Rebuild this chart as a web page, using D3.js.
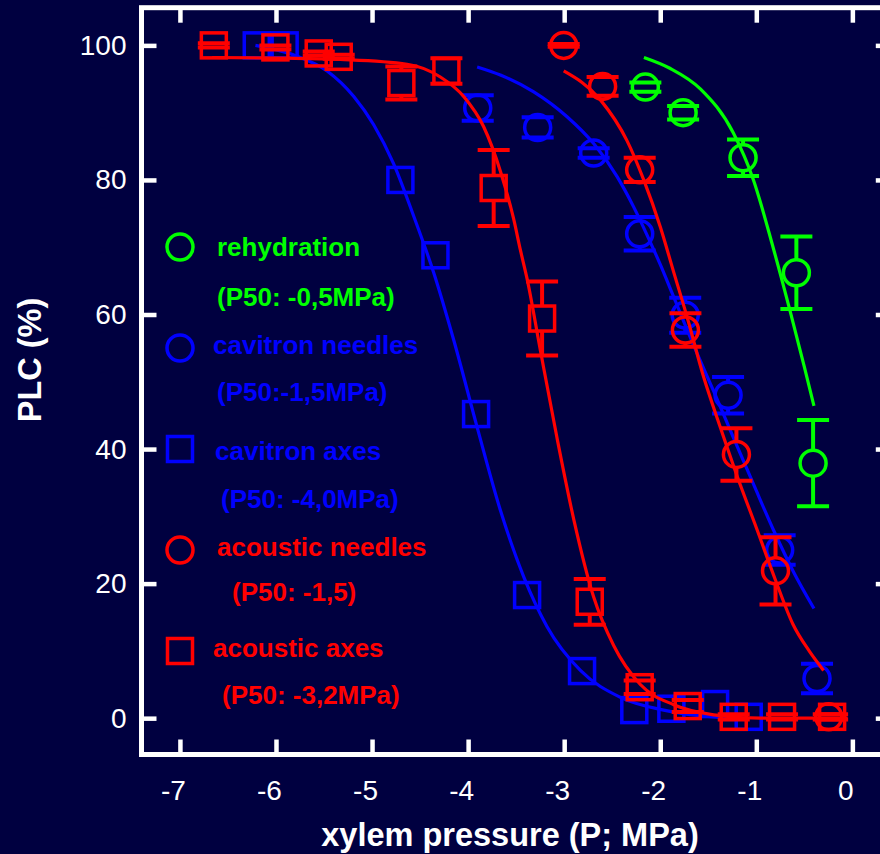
<!DOCTYPE html>
<html><head><meta charset="utf-8">
<script src="https://cdn.jsdelivr.net/npm/d3@7"></script>
<style>
html,body{margin:0;padding:0;background:#000040;}
svg{display:block;}
</style></head><body>
<svg id="chart" width="880" height="854"></svg>
<script>
// ---------- data ----------
const xTicks = [-7, -6, -5, -4, -3, -2, -1, 0];
const yTicks = [0, 20, 40, 60, 80, 100];

// rehydration (green circles)
const rehydP   = [-2.155, -1.762, -1.138, -0.583, -0.409];
const rehydPLC = [93.8, 90.0, 83.3, 66.2, 37.9];
const rehydErr = [0.7, 1.0, 2.7, 5.4, 6.4];

// cavitron needles (blue circles)
const cavNeedP   = [-3.90, -3.276, -2.693, -2.214, -1.74, -1.294, -0.757, -0.368];
const cavNeedPLC = [90.7, 87.8, 84.0, 72.0, 59.9, 48.0, 25.0, 5.9];
const cavNeedErr = [1.9, 1.5, 0.7, 2.5, 2.6, 2.7, 2.2, 2.2];

// cavitron axes (blue squares)
const cavAxP   = [-6.20, -5.91, -4.705, -4.34, -3.917, -3.386, -2.814, -2.27, -1.884, -1.429, -1.079];
const cavAxPLC = [100, 100, 80.0, 68.8, 45.2, 18.3, 7.0, 1.2, 1.4, 2.1, 0.2];

// acoustic needles (red circles)
const acNeedP   = [-3.005, -2.60, -2.214, -1.738, -1.207, -0.80, -0.246];
const acNeedPLC = [100.0, 93.9, 81.5, 57.7, 39.2, 21.9, 0.2];
const acNeedErr = [0.2, 1.4, 1.8, 2.5, 3.9, 5.0, 0.4];

// acoustic axes (red squares)
const acAxP   = [-6.647, -6.006, -5.555, -5.347, -4.695, -4.226, -3.734, -3.23, -2.734, -2.214, -1.714, -1.235, -0.732, -0.211];
const acAxPLC = [100, 99.7, 98.8, 98.3, 94.4, 96.2, 78.8, 59.4, 17.3, 4.6, 1.8, 0.2, 0.2, 0.2];
const acAxErr = [0.3, 0.3, 0.3, 0.3, 2.45, 1.9, 5.65, 5.5, 3.4, 1.0, 0.9, 0.4, 0.4, 0.4];

// fitted curves: [P, PLC]
const rehydCurve = [[-2.17,98.2],[-1.9,96.6],[-1.58,93.5],[-1.24,87.0],[-1.03,80.0],[-0.82,69.7],[-0.65,60.6],[-0.5,52.2],[-0.40,46.4]];
const cavNeedCurve = [[-3.906,96.8],[-3.664,95.6],[-3.317,93.1],[-2.97,89.4],[-2.693,85.4],[-2.449,80.5],[-2.277,76.0],[-2.137,71.8],[-1.999,67.4],[-1.86,62.6],[-1.652,55.4],[-1.444,48.6],[-1.235,41.6],[-1.027,34.7],[-0.819,27.9],[-0.611,21.7],[-0.40,16.3]];
const acNeedCurve = [[-3.005,96.2],[-2.623,91.9],[-2.345,85.8],[-2.172,80.0],[-1.999,73.0],[-1.86,66.3],[-1.72,59.6],[-1.548,50.7],[-1.374,43.2],[-1.2,36.0],[-0.992,28.0],[-0.8,20.5],[-0.62,14.0],[-0.45,10.0],[-0.30,7.1]];
const cavAxCurve = [[-6.214,100.0],[-5.78,98.4],[-5.468,96.2],[-5.19,92.4],[-4.983,88.2],[-4.775,82.4],[-4.566,74.6],[-4.358,66.2],[-4.15,56.2],[-3.907,43.3],[-3.664,30.9],[-3.421,21.0],[-3.178,13.6],[-2.831,7.1],[-2.415,3.1],[-1.964,1.2],[-1.444,0.2],[-1.1,0.0]];
const acAxCurve = [[-6.665,98.2],[-5.9,98.1],[-5.33,97.9],[-4.635,97.2],[-4.289,95.3],[-4.046,92.4],[-3.838,87.9],[-3.664,81.3],[-3.526,74.2],[-3.456,69.6],[-3.386,65.3],[-3.248,54.7],[-3.074,41.6],[-2.901,29.6],[-2.693,18.0],[-2.485,10.8],[-2.207,5.0],[-1.86,2.0],[-1.444,0.5],[-0.958,0.0],[-0.05,0.0]];

const legendLabels = [
  ["rehydration", "(P50: -0,5MPa)"],
  ["cavitron needles", "(P50:-1,5MPa)"],
  ["cavitron axes", "(P50: -4,0MPa)"],
  ["acoustic needles", "(P50: -1,5)"],
  ["acoustic axes", "(P50: -3,2MPa)"]
];

// ---------- styles ----------
const BG = "#000040", GREEN = "#00ff00", BLUE = "#0000ff", RED = "#ff0000";
const FONT = "'Liberation Sans', Arial, Helvetica, sans-serif";

const W = 880, H = 854;
const svg = d3.select("#chart");
svg.append("rect").attr("width", W).attr("height", H).attr("fill", BG);

const x = d3.scaleLinear().domain([-7.4, 0.4]).range([141.5, 890.8]);
const y = d3.scaleLinear().domain([-5.4, 105.6]).range([754.5, 7.7]);

// ---------- frame and axes ----------
const tickLen = 15;
function styleAxis(g) {
  g.select(".domain").remove();
  g.selectAll(".tick line").attr("stroke", "#fff").attr("stroke-width", 4.5);
  g.selectAll(".tick text").attr("fill", "#fff").attr("font-family", FONT).attr("font-size", 28);
}
svg.append("g").attr("transform", `translate(0,${y(-5.4)})`)
  .call(d3.axisBottom(x).tickValues(xTicks).tickSize(-tickLen).tickPadding(26).tickFormat(d => String(d)))
  .call(styleAxis).call(g => g.selectAll(".tick text").attr("dx", -7));
svg.append("g").attr("transform", `translate(0,${y(105.6)})`)
  .call(d3.axisTop(x).tickValues(xTicks).tickSize(-tickLen).tickFormat(""))
  .call(styleAxis);
svg.append("g").attr("transform", `translate(${x(-7.4)},0)`)
  .call(d3.axisLeft(y).tickValues(yTicks).tickSize(-tickLen).tickPadding(15).tickFormat(d => String(d)))
  .call(styleAxis);
svg.append("g").attr("transform", `translate(${x(0.4)},0)`)
  .call(d3.axisRight(y).tickValues(yTicks).tickSize(-tickLen).tickFormat(""))
  .call(styleAxis);
svg.append("rect")
  .attr("x", x(-7.4)).attr("y", y(105.6))
  .attr("width", x(0.4) - x(-7.4)).attr("height", y(-5.4) - y(105.6))
  .attr("fill", "none").attr("stroke", "#fff").attr("stroke-width", 5);

// axis titles
svg.append("text").attr("x", 510).attr("y", 846).attr("text-anchor", "middle")
  .attr("font-family", FONT).attr("font-weight", "bold").attr("font-size", 32.5).attr("fill", "#fff")
  .text("xylem pressure (P; MPa)");
svg.append("text").attr("transform", "translate(41,360) rotate(-90)").attr("text-anchor", "middle")
  .attr("font-family", FONT).attr("font-weight", "bold").attr("font-size", 32.5).attr("fill", "#fff")
  .text("PLC (%)");

// ---------- series ----------
const R = 13, HS = 12.5, CAP = 16;
const line = d3.line().x(d => x(d[0])).y(d => y(d[1])).curve(d3.curveMonotoneX);

function drawCurve(pts, color) {
  svg.append("path").datum(pts).attr("d", line)
    .attr("fill", "none").attr("stroke", color).attr("stroke-width", 3.2);
}
function drawSeries(P, V, E, color, shape) {
  const data = P.map((p, i) => ({ p, v: V[i], e: E ? E[i] : 0 }));
  const g = svg.append("g");
  const half = shape === "circle" ? R : HS;
  data.forEach(d => {
    const cx = x(d.p), cy = y(d.v);
    if (d.e > 0) {
      const yt = y(d.v + d.e), yb = y(d.v - d.e);
      if (cy - yt > half) g.append("line").attr("x1", cx).attr("x2", cx).attr("y1", yt).attr("y2", cy - half)
        .attr("stroke", color).attr("stroke-width", 4);
      if (yb - cy > half) g.append("line").attr("x1", cx).attr("x2", cx).attr("y1", cy + half).attr("y2", yb)
        .attr("stroke", color).attr("stroke-width", 4);
      [yt, yb].forEach(yy => g.append("line").attr("x1", cx - CAP).attr("x2", cx + CAP).attr("y1", yy).attr("y2", yy)
        .attr("stroke", color).attr("stroke-width", 4));
    }
    if (shape === "circle") {
      g.append("circle").attr("cx", cx).attr("cy", cy).attr("r", R)
        .attr("fill", "none").attr("stroke", color).attr("stroke-width", 3.5);
    } else {
      g.append("rect").attr("x", cx - HS).attr("y", cy - HS).attr("width", 2 * HS).attr("height", 2 * HS)
        .attr("fill", "none").attr("stroke", color).attr("stroke-width", 3.5);
    }
  });
}

drawCurve(cavAxCurve, BLUE);
drawCurve(cavNeedCurve, BLUE);
drawSeries(cavAxP, cavAxPLC, null, BLUE, "square");
drawSeries(cavNeedP, cavNeedPLC, cavNeedErr, BLUE, "circle");
drawCurve(rehydCurve, GREEN);
drawSeries(rehydP, rehydPLC, rehydErr, GREEN, "circle");
drawCurve(acNeedCurve, RED);
drawCurve(acAxCurve, RED);
drawSeries(acNeedP, acNeedPLC, acNeedErr, RED, "circle");
drawSeries(acAxP, acAxPLC, acAxErr, RED, "square");

// ---------- legend ----------
const legColors = [GREEN, BLUE, BLUE, RED, RED];
const legShapes = ["circle", "circle", "square", "circle", "square"];
const legSymY = [247, 348, 449, 550, 651];
const legT1X = [217, 213, 215, 217, 213], legT1Y = [256, 354, 460, 556, 657];
const legT2X = [217, 217, 221, 232, 222], legT2Y = [306, 401, 508, 601, 704];
const lg = svg.append("g");
legendLabels.forEach((lab, i) => {
  const c = legColors[i];
  if (legShapes[i] === "circle") {
    lg.append("circle").attr("cx", 180).attr("cy", legSymY[i]).attr("r", R)
      .attr("fill", "none").attr("stroke", c).attr("stroke-width", 3.5);
  } else {
    lg.append("rect").attr("x", 180 - HS).attr("y", legSymY[i] - HS).attr("width", 2 * HS).attr("height", 2 * HS)
      .attr("fill", "none").attr("stroke", c).attr("stroke-width", 3.5);
  }
  lg.append("text").attr("x", legT1X[i]).attr("y", legT1Y[i]).attr("fill", c)
    .attr("font-family", FONT).attr("font-weight", "bold").attr("font-size", 26).text(lab[0]);
  lg.append("text").attr("x", legT2X[i]).attr("y", legT2Y[i]).attr("fill", c)
    .attr("font-family", FONT).attr("font-weight", "bold").attr("font-size", 26).text(lab[1]);
});
</script>
</body></html>
